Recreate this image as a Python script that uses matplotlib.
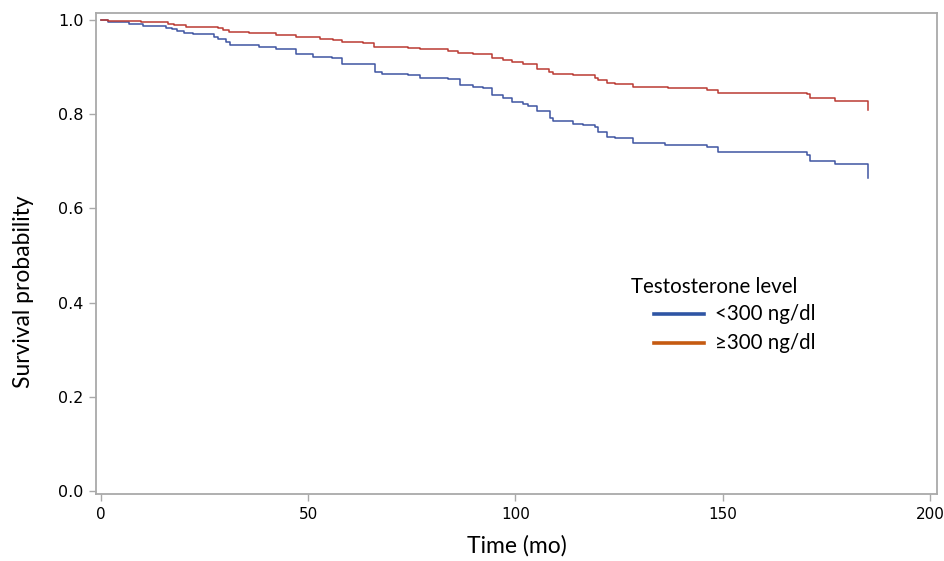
import matplotlib
matplotlib.use('Agg')
import matplotlib.pyplot as plt
from matplotlib.lines import Line2D

# Kaplan-Meier estimates (time in months, survival)
low_t = [0, 1.7, 6.8, 10.1, 15.7, 17.1, 18.3, 20.0, 22.2, 27.3, 28.2, 30.2, 31.1,
         33.8, 38.1, 42.2, 47.0, 51.1, 55.7, 58.1, 66.1, 67.8, 74.1, 77.0, 83.7,
         86.6, 89.7, 92.2, 94.3, 97.0, 99.2, 101.8, 103.0, 105.2, 108.3, 109.0,
         113.9, 116.3, 119.2, 119.9, 122.1, 124.0, 128.3, 136.1, 146.2, 148.9,
         170.3, 171.0, 177.1, 185.0]
low_s = [1.0, 0.996, 0.992, 0.987, 0.983, 0.980, 0.977, 0.973, 0.970, 0.964, 0.959,
         0.953, 0.948, 0.946, 0.943, 0.938, 0.927, 0.922, 0.919, 0.906, 0.890, 0.885,
         0.883, 0.877, 0.874, 0.862, 0.857, 0.855, 0.841, 0.834, 0.825, 0.821, 0.818,
         0.807, 0.793, 0.786, 0.780, 0.777, 0.773, 0.762, 0.752, 0.749, 0.738, 0.735,
         0.731, 0.720, 0.713, 0.701, 0.694, 0.665]

high_t = [0, 1.7, 9.7, 16.2, 17.6, 20.5, 28.2, 29.4, 30.9, 35.7, 42.2, 47.0, 52.8,
          56.0, 58.1, 63.2, 65.9, 74.1, 77.0, 83.7, 86.1, 89.7, 94.3, 97.0, 99.2,
          101.8, 105.2, 108.1, 109.0, 113.9, 119.2, 119.9, 122.1, 124.0, 128.3,
          136.8, 146.2, 148.9, 170.3, 171.0, 177.1, 185.0]
high_s = [1.0, 0.997, 0.995, 0.992, 0.989, 0.986, 0.983, 0.978, 0.975, 0.972, 0.969,
          0.964, 0.960, 0.957, 0.954, 0.952, 0.943, 0.940, 0.938, 0.935, 0.931, 0.927,
          0.919, 0.915, 0.910, 0.906, 0.897, 0.890, 0.886, 0.883, 0.877, 0.873, 0.866,
          0.864, 0.857, 0.855, 0.851, 0.846, 0.842, 0.835, 0.829, 0.809]

groups = ['<300 ng/dl', '≥300 ng/dl']
line_colors = ['#3f55a2', '#bb3a33']
legend_colors = ['#2f55a4', '#c55a11']

xticks = [0, 50, 100, 150, 200]
yticks = [0.0, 0.2, 0.4, 0.6, 0.8, 1.0]

fig = plt.figure(figsize=(9.45, 5.61), dpi=100)
ax = fig.add_axes([0.1016, 0.1194, 0.8899, 0.8574])

ax.step(low_t, low_s, where='post', color=line_colors[0], lw=1.1)
ax.step(high_t, high_s, where='post', color=line_colors[1], lw=1.1)

ax.set_xlim(-1.2, 201.7)
ax.set_ylim(-0.0064, 1.0149)
ax.set_xticks(xticks)
ax.set_yticks(yticks)
ax.set_yticklabels(['%.1f' % v for v in yticks], family='DejaVu Sans', fontsize=11.5)
ax.set_xticklabels([str(v) for v in xticks], family='DejaVu Sans', fontsize=11)

for s in ax.spines.values():
    s.set_color('#a9a9a9')
    s.set_linewidth(1.3)
ax.tick_params(color='#a9a9a9', length=5, width=1.0, pad=4)

ax.set_xlabel('Time (mo)', family='Lato', fontsize=16.5, labelpad=10)
ax.set_ylabel('Survival probability', family='Lato', fontsize=16.5)
# the y title sits a bit below the middle in the original
ax.yaxis.set_label_coords(-0.074, 0.42)

# legend drawn by hand, title flush left and entries indented
ax.text(0.6365, 0.43, 'Testosterone level', transform=ax.transAxes,
        family='Lato', fontsize=14.8, va='center', ha='left')
for i, (g, c) in enumerate(zip(groups, legend_colors)):
    y = 0.374 - i * 0.061
    ax.add_line(Line2D([0.6635, 0.7225], [y, y], transform=ax.transAxes,
                       color=c, lw=2.6))
    ax.text(0.7355, y, g, transform=ax.transAxes, family='Lato',
            fontsize=14.8, va='center', ha='left')

fig.savefig('out.png', dpi=100)
